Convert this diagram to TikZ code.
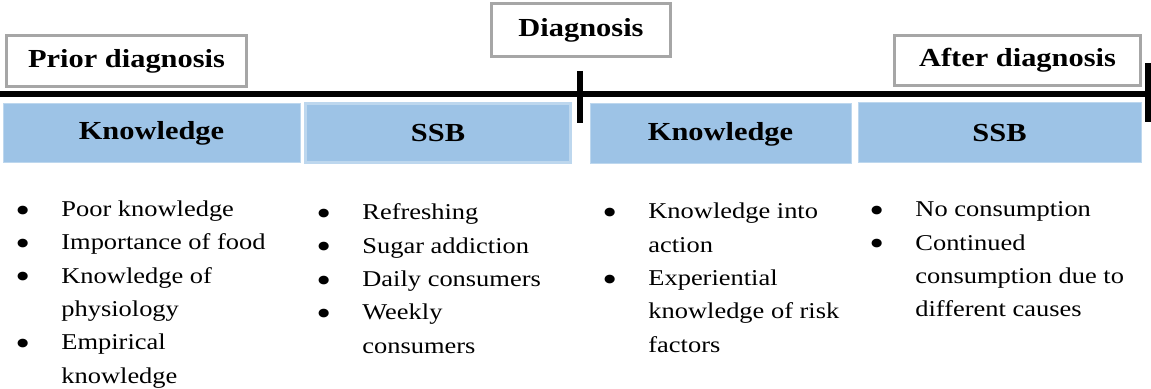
\documentclass[tikz,border=0pt]{standalone}
\usepackage{fontspec}
\setmainfont{Liberation Serif}[FakeStretch=1.17]
\usepackage{graphicx}
\usepackage{tikz}
\usetikzlibrary{positioning}

\definecolor{phaseblue}{HTML}{9DC3E6}
\definecolor{phaseedge}{HTML}{BDD7EE}
\definecolor{framegray}{HTML}{A6A6A6}

\tikzset{
    stage/.style={draw=framegray, line width=1.4pt, fill=white, inner sep=0pt,
        font=\fontsize{13}{15}\selectfont\bfseries},
    topic/.style={fill=phaseblue, draw=phaseedge, line width=0.5pt, inner sep=0pt,
        font=\fontsize{13}{15}\selectfont\bfseries},
    points/.style={anchor=base west, inner sep=0pt,
        font=\fontsize{11.3}{16.65}\selectfont},
}
\newcommand{\itm}{\raisebox{-2.8pt}{\scalebox{1.6}{\textbullet}}}

\begin{document}
\begin{tikzpicture}[x=0.5pt, y=-0.5pt]
    \useasboundingbox (0,0) rectangle (1151,389);

    % timeline with ticks
    \coordinate (t0) at (0,94);
    \coordinate (t1) at (1148,94);
    \draw[line width=2.7pt] (t0) -- (t1);
    \coordinate (midtop) at (580,71);
    \coordinate (midbot) at (580,123);
    \draw[line width=3pt] (midtop) -- (midbot);
    \coordinate (endtop) at (1148,63);
    \coordinate (endbot) at (1148,122);
    \draw[line width=3pt] (endtop) -- (endbot);

    % stages (text sits a bit left of centre)
    \node[stage, minimum width=120pt, minimum height=25.5pt] (prior) at (126.5,61) {Prior diagnosis\hspace{3pt}};
    \node[stage, minimum width=89.5pt, minimum height=26.5pt] (diag) at (581,30) {Diagnosis\hspace{7pt}};
    \node[stage, minimum width=123pt, minimum height=25pt] (after) at (1017.5,60.5) {After diagnosis\hspace{6pt}};

    % blue headers
    \node[topic, minimum width=148.5pt, minimum height=29.5pt] (know1) at (151.5,133.5) {Knowledge};
    \node[topic, line width=1.5pt, minimum width=132.5pt, minimum height=29.5pt] (ssb1) at (438,133) {SSB};
    \node[topic, minimum width=130.5pt, minimum height=30pt] (know2) at (720.5,134) {Knowledge};
    \node[topic, minimum width=141.5pt, minimum height=30pt] (ssb2) at (999.5,133) {SSB};

    % bullet lists
    \node[points] (list1) at (15,216.7) {\begin{tabular}[t]{@{}p{23pt}@{}l@{}}
        \itm & Poor knowledge\\
        \itm & Importance of food\\
        \itm & Knowledge of\\
             & physiology\\
        \itm & Empirical\\
             & knowledge
    \end{tabular}};
    \node[points] (list2) at (316,220) {\begin{tabular}[t]{@{}p{23pt}@{}l@{}}
        \itm & Refreshing\\
        \itm & Sugar addiction\\
        \itm & Daily consumers\\
        \itm & Weekly\\
             & consumers
    \end{tabular}};
    \node[points] (list3) at (602,219) {\begin{tabular}[t]{@{}p{23pt}@{}l@{}}
        \itm & Knowledge into\\
             & action\\
        \itm & Experiential\\
             & knowledge of risk\\
             & factors
    \end{tabular}};
    \node[points] (list4) at (869,217) {\begin{tabular}[t]{@{}p{23pt}@{}l@{}}
        \itm & No consumption\\
        \itm & Continued\\
             & consumption due to\\
             & different causes
    \end{tabular}};
\end{tikzpicture}
\end{document}
